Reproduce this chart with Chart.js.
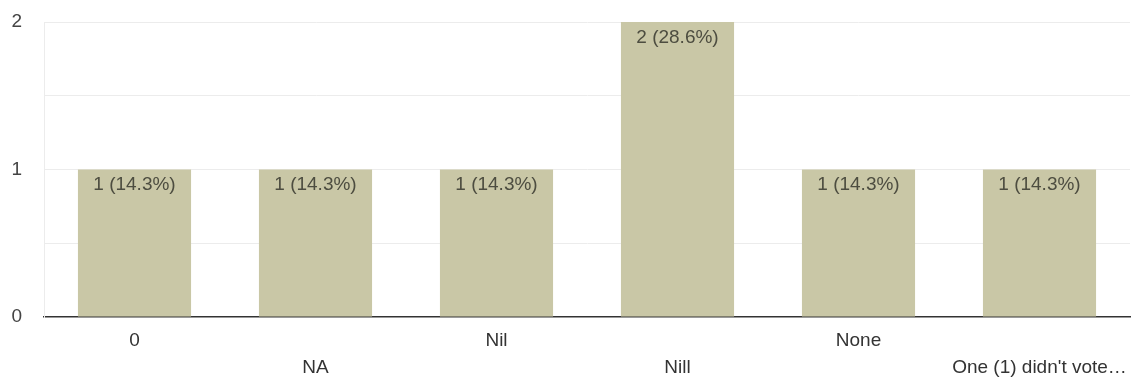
<!DOCTYPE html>
<html lang="en">
<head>
    <meta charset="UTF-8">
    <title>Responses</title>
    <script src="https://cdn.jsdelivr.net/npm/chart.js"></script>
    <style>
        body { margin: 0; background: #fff; }
    </style>
</head>
<body>
    <canvas id="chart" width="1136" height="379"></canvas>

    <script>
        // data
        const categories = ['0', 'NA', 'Nil', 'Nill', 'None', "One (1) didn't vote\u2026"];
        const counts = [1, 1, 1, 2, 1, 1];
        const percents = ['14.3%', '14.3%', '14.3%', '28.6%', '14.3%', '14.3%'];
        const yTicks = [0, 1, 2];

        const FONT = '"Liberation Sans", Arial, sans-serif';

        // draws "n (x%)" just inside the top of each bar
        const barLabels = {
            id: 'barLabels',
            afterDatasetsDraw(chart) {
                const ctx = chart.ctx;
                const meta = chart.getDatasetMeta(0);
                ctx.save();
                ctx.font = '19px ' + FONT;
                ctx.fillStyle = '#4d4d40';
                ctx.textAlign = 'center';
                ctx.textBaseline = 'top';
                meta.data.forEach((bar, i) => {
                    ctx.fillText(counts[i] + ' (' + percents[i] + ')', bar.x, bar.y + 6);
                });
                ctx.restore();
            }
        };

        const ctx = document.getElementById('chart').getContext('2d');
        new Chart(ctx, {
            type: 'bar',
            data: {
                labels: categories,
                datasets: [{
                    data: counts,
                    backgroundColor: '#c9c7a6',
                    barPercentage: 0.625,
                    categoryPercentage: 1
                }]
            },
            options: {
                responsive: false,
                animation: false,
                layout: { padding: { top: 22, right: 6 } },
                plugins: {
                    legend: { display: false },
                    tooltip: { enabled: false }
                },
                scales: {
                    x: {
                        grid: { display: false },
                        border: { color: '#333', width: 1.5 },
                        afterFit(scale) { scale.height = 62; },
                        ticks: {
                            autoSkip: false,
                            maxRotation: 0,
                            padding: 2,
                            color: '#333',
                            font: { family: FONT, size: 19, lineHeight: 1.42 },
                            // stagger the labels on two rows
                            callback(value, index) {
                                const lab = categories[index];
                                return index % 2 === 0 ? [lab, ''] : ['', lab];
                            }
                        }
                    },
                    y: {
                        min: 0,
                        max: 2,
                        afterFit(scale) {
                            scale.width = 44;
                            scale.paddingTop = 0;
                            scale.paddingBottom = 0;
                        },
                        border: { color: '#ececec' },
                        grid: {
                            drawTicks: false,
                            color: (c) => c.tick && c.tick.value === 0 ? 'rgba(0,0,0,0)' : '#ececec'
                        },
                        ticks: {
                            stepSize: 0.5,
                            padding: 22,
                            color: '#444',
                            font: { family: FONT, size: 19 },
                            callback: (v) => yTicks.includes(v) ? v : ''
                        }
                    }
                }
            },
            plugins: [barLabels]
        });
    </script>
</body>
</html>
